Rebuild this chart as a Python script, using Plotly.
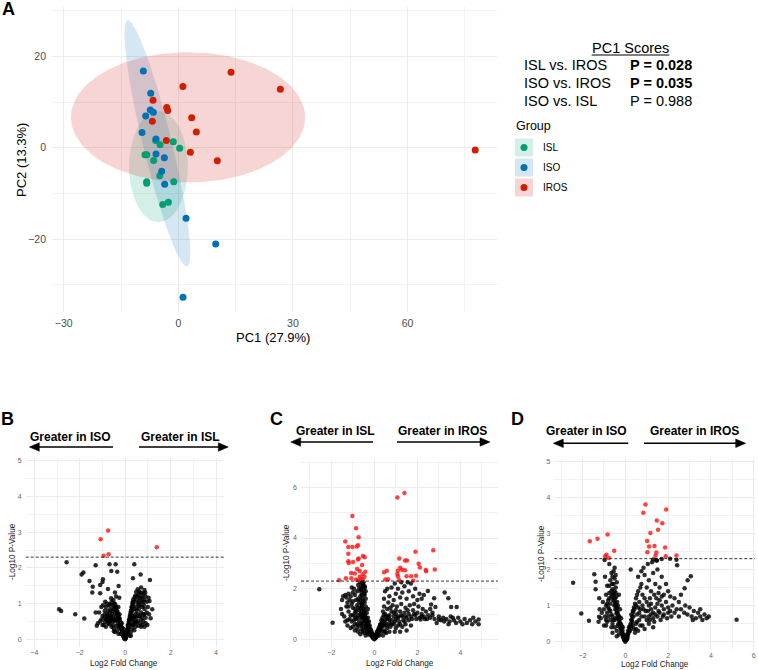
import numpy as np
import plotly.graph_objects as go

W, H = 758, 670
FONT = "Liberation Sans, Arial, sans-serif"


def PX(X):
    return X / W


def PY(Y):
    return 1 - Y / H

# ---------------- Panel A data (PCA scores) ----------------
groups = ["ISL", "ISO", "IROS"]
isl_pc1 = [-5.93, -4.79, -1.31, 0.35, -8.72, -8.28, -6.45, -4.87, -8.28, -8.28, -1.2, -4.09, -2.61]
isl_pc2 = [1.56, 0.66, 1.31, -0.14, -1.53, -1.53, -2.77, -6.12, -7.43, -7.8, -7.43, -12.4, -11.95]
iso_pc1 = [-9.16, -7.23, -7.33, -6.54, -8.54, -9.5, -5.84, -5.84, -3.66, -4.35, -3.57, 2.02, 9.78, 1.23]
iso_pc2 = [16.78, 11.9, 8.25, 7.74, 6.94, 3.36, 1.9, -1.38, -2.19, -5.17, -8.0, -15.45, -21.07, -32.7]
iros_pc1 = [13.8, 1.2, -6.62, -3.04, -2.78, -6.8, 3.5, 4.71, -3.14, 3.15, 10.2, 26.7, 77.7]
iros_pc2 = [16.5, 13.4, 10.37, 8.83, 8.17, 5.77, 6.57, 3.44, 1.6, -1.0, -2.84, 12.8, -0.5]

# confidence ellipses (centre and conjugate semi-axes)
ell_cx = [-5.2, -5.5, 2.55]
ell_cy = [-4.15, 0.95, 6.65]
ell_ux = [0.0, 7.7, 0.0]
ell_uy = [12.15, -26.95, 14.25]
ell_vx = [7.7, 3.9, 30.65]
ell_vy = [0.0, 0.0, 0.0]

pc1_tests = ["ISL vs. IROS", "ISO vs. IROS", "ISO vs. ISL"]
pc1_pvals = ["P = 0.028", "P = 0.035", "P = 0.988"]
pc1_sig = [True, True, False]

# ---------------- Volcano data ----------------
b_red = [(-0.75, 3.05), (-1.08, 2.80), (1.39, 2.58), (-0.73, 2.38), (-0.95, 2.34)]
b_black = [
    (-2.58, 2.16), (-1.30, 2.07), (-0.69, 2.10), (-0.42, 2.10), (0.40, 2.10), (-0.61, 1.91), (-0.35, 1.89),
    (-1.84, 1.87), (-1.92, 1.81), (0.68, 1.81), (0.34, 1.71), (1.09, 1.66), (-1.57, 1.63), (-0.98, 1.68),
    (-1.0, 1.60), (-1.10, 1.52), (-1.43, 1.47), (-0.29, 1.49), (-0.76, 1.41), (-1.45, 1.31), (-1.10, 1.29),
    (-0.45, 1.31), (-0.26, 1.16), (-2.91, 0.84), (-2.82, 0.79), (-2.20, 0.70), (-1.80, 0.58), (-1.30, 0.75),
    (-1.25, 0.38), (1.03, 1.16), (1.07, 1.07), (1.19, 0.84), (1.12, 0.59), (0.98, 0.40),
    (-0.05, 0.05), (-0.1, 0.1), (-0.08, 0.15), (-0.15, 0.2), (-0.12, 0.25), (-0.2, 0.3), (-0.18, 0.35),
    (-0.25, 0.4), (-0.3, 0.45), (-0.22, 0.5), (-0.35, 0.55), (-0.28, 0.6), (-0.4, 0.65), (-0.33, 0.7),
    (-0.45, 0.75), (-0.38, 0.8), (-0.5, 0.85), (-0.42, 0.9), (-0.55, 0.95), (-0.48, 1.0), (-0.6, 1.05),
    (-0.52, 1.1), (-0.65, 0.5), (-0.7, 0.6), (-0.75, 0.45), (-0.8, 0.7), (-0.85, 0.55), (-0.9, 0.8),
    (-0.95, 0.4), (-1.0, 0.65), (-1.05, 0.9), (-0.6, 0.35), (-0.5, 0.3), (-0.45, 0.2), (-0.35, 0.25),
    (-0.55, 0.4), (-0.65, 0.85), (-0.72, 0.95), (-0.8, 1.0), (-0.88, 1.05), (-0.62, 1.15), (-0.58, 0.7),
    (-0.68, 0.75), (-0.78, 0.5), (-0.92, 0.6), (-1.1, 0.5), (-1.15, 0.75), (-1.2, 0.45), (-0.98, 0.95),
    (-0.3, 0.9), (-0.25, 0.7), (-0.4, 1.2), (-0.15, 0.45), (-0.1, 0.3), (-0.05, 0.2), (-0.03, 0.1),
    (-0.2, 0.15), (-0.3, 0.35), (-0.45, 0.5), (-0.85, 0.35),
    (0.03, 0.05), (0.06, 0.12), (0.1, 0.18), (0.08, 0.25), (0.14, 0.3), (0.12, 0.38), (0.18, 0.42),
    (0.16, 0.5), (0.22, 0.55), (0.2, 0.62), (0.26, 0.68), (0.24, 0.75), (0.3, 0.8), (0.28, 0.88),
    (0.34, 0.92), (0.32, 1.0), (0.38, 1.05), (0.36, 1.12), (0.42, 1.18), (0.45, 1.22), (0.5, 1.1),
    (0.55, 1.2), (0.6, 1.25), (0.65, 1.15), (0.7, 1.3), (0.75, 1.2), (0.8, 1.28), (0.85, 1.1), (0.9, 1.2),
    (0.95, 1.05), (0.5, 0.9), (0.55, 1.0), (0.6, 0.85), (0.65, 0.95), (0.7, 0.75), (0.75, 0.9), (0.8, 0.7),
    (0.85, 0.85), (0.9, 0.6), (0.95, 0.75), (0.45, 0.7), (0.5, 0.6), (0.55, 0.5), (0.6, 0.65), (0.65, 0.45),
    (0.7, 0.55), (0.75, 0.4), (0.8, 0.5), (0.85, 0.35), (0.4, 0.5), (0.35, 0.4), (0.3, 0.3), (0.25, 0.2),
    (0.2, 0.1), (0.45, 0.35), (0.9, 0.45), (1.0, 0.9), (1.05, 0.7), (0.42, 0.85), (0.38, 0.6),
    (0.55, 1.4), (0.7, 1.45), (0.85, 1.38), (0.62, 1.33),
    (-0.04, 0.02), (0.0, 0.0), (0.02, 0.03), (-0.07, 0.08), (0.05, 0.09), (-0.12, 0.18), (0.09, 0.15),
    (-0.16, 0.28), (0.12, 0.22), (-0.22, 0.38), (0.15, 0.35), (-0.27, 0.52), (0.19, 0.46), (-0.32, 0.62),
    (0.23, 0.58), (-0.37, 0.72), (0.27, 0.72), (-0.43, 0.82), (0.31, 0.84), (-0.47, 0.92), (0.35, 0.97),
    (-0.55, 0.62), (0.42, 0.62), (-0.62, 0.55), (0.48, 0.48), (-0.7, 0.42), (0.58, 0.38), (-0.4, 0.38),
    (0.3, 0.4), (-0.5, 0.22), (0.4, 0.25), (-0.9, 0.48), (0.7, 0.35), (-1.05, 0.55), (0.62, 0.95),
    (0.72, 1.05), (0.82, 0.95), (0.88, 1.3), (0.48, 1.32), (-0.68, 0.98), (-0.58, 0.8), (-0.75, 0.65),
    (-0.3, 0.15), (0.25, 0.1),
    (-0.06, 0.12), (0.04, 0.15), (-0.1, 0.22), (0.07, 0.2), (-0.14, 0.33), (0.1, 0.3), (-0.19, 0.45),
    (0.13, 0.42), (-0.24, 0.58), (0.17, 0.55), (-0.29, 0.68), (0.21, 0.68), (-0.34, 0.78), (0.25, 0.8),
    (-0.39, 0.88), (0.29, 0.92), (-0.44, 0.98), (0.33, 1.05), (-0.5, 0.55), (0.35, 0.5), (-0.6, 0.6),
    (0.45, 0.45), (-0.7, 0.5), (0.55, 0.7), (-0.8, 0.6), (0.65, 0.65), (-0.9, 0.7), (0.75, 0.6),
    (-1.0, 0.4), (0.85, 0.7), (-0.4, 0.55), (0.3, 0.65), (-0.55, 0.5), (0.5, 0.8), (-0.65, 0.65),
    (0.6, 1.05), (-0.75, 0.8), (0.72, 1.15), (-0.85, 0.9), (0.8, 1.05),
]

c_red = [
    (1.40, 5.78), (1.07, 5.60), (-1.02, 4.87), (-0.85, 4.39), (-0.73, 4.03), (-1.35, 3.86), (-1.21, 3.65),
    (-1.02, 3.65), (-0.82, 3.67), (-0.76, 3.71), (-1.21, 3.38), (1.91, 3.46), (2.74, 3.52), (1.16, 3.19),
    (1.43, 3.11), (1.52, 3.11), (-0.73, 3.19), (-0.53, 3.29), (-0.45, 3.24), (-1.21, 3.08), (-1.19, 3.01),
    (-0.99, 3.05), (-0.76, 3.15), (-0.57, 2.94), (2.06, 2.98), (2.12, 2.84), (1.20, 2.83), (1.29, 2.75),
    (1.43, 2.73), (1.09, 2.71), (2.39, 2.74), (2.41, 2.69), (2.81, 2.76), (0.58, 2.71), (0.45, 2.65),
    (-0.80, 2.78), (-0.68, 2.70), (-0.42, 2.67), (-0.54, 2.57), (-1.08, 2.62), (-0.91, 2.60), (1.07, 2.58),
    (1.94, 2.51), (1.71, 2.49), (1.50, 2.49), (1.10, 2.48), (-0.68, 2.47), (-0.46, 2.47), (-0.62, 2.38),
    (-1.64, 2.33), (-1.32, 2.41), (-1.07, 2.41), (-0.85, 2.36), (-0.76, 2.33), (-0.54, 2.36), (0.51, 2.36),
    (0.64, 2.37), (1.16, 2.33), (1.81, 2.31),
]
c_black = [
    (-2.56, 1.98), (-1.94, 0.66), (3.27, 1.85), (3.44, 1.62), (3.83, 1.28), (3.57, 1.28), (2.49, 1.91),
    (2.78, 1.62), (2.64, 1.38), (2.84, 1.28),
    (2.6, 0.85), (2.8, 0.8), (3.0, 0.9), (3.1, 0.75), (3.2, 0.85), (3.35, 0.8), (3.5, 0.7), (3.55, 0.9),
    (3.7, 0.75), (3.8, 0.65), (3.9, 0.85), (4.0, 0.7), (4.1, 0.6), (4.2, 0.8), (4.3, 0.65), (4.45, 0.75),
    (4.55, 0.6), (4.7, 0.7), (4.85, 0.6), (4.85, 0.78), (4.6, 0.85), (2.9, 0.65), (3.25, 0.7), (3.45, 0.6),
    (3.65, 0.85), (2.7, 0.95), (3.0, 0.78),
    (-1.45, 1.7), (-1.35, 1.75), (-1.3, 1.65), (-1.2, 1.8), (-1.1, 1.7), (-1.0, 1.85), (-0.9, 1.75),
    (-0.8, 1.9), (-0.7, 2.0), (-0.6, 2.1), (-0.55, 2.2), (-0.5, 2.25), (-0.45, 2.1), (-0.5, 1.95),
    (-0.6, 1.85), (-0.65, 1.7), (-0.75, 1.6), (-0.85, 1.55), (-1.0, 1.5), (-1.15, 1.55), (-1.25, 1.45),
    (-0.4, 1.9), (-0.45, 1.75), (-0.55, 1.6), (-0.4, 1.6), (-0.95, 2.0), (-1.05, 2.05), (-0.75, 2.15),
    (-0.65, 2.25), (-1.5, 1.55),
    (-1.55, 1.2), (-1.5, 1.0), (-1.4, 0.9), (-1.3, 1.3), (-1.2, 1.1), (-1.1, 0.95), (-1.0, 1.25),
    (-0.9, 1.05), (-0.8, 1.35), (-0.7, 1.15), (-0.6, 1.4), (-0.5, 1.2), (-0.4, 1.3), (-0.35, 1.05),
    (-0.45, 0.9), (-0.55, 1.0), (-0.65, 0.85), (-0.75, 0.95), (-0.85, 0.8), (-0.95, 0.75), (-1.05, 0.7),
    (-1.15, 0.8), (-1.25, 0.75), (-1.35, 0.7), (-0.3, 0.85), (-0.25, 0.7), (-0.35, 0.6), (-0.5, 0.75),
    (-0.6, 0.65), (-0.3, 1.2), (-0.45, 1.45), (-0.7, 1.45),
    (-0.52, 1.5), (-0.58, 1.3), (-0.48, 1.05), (-0.56, 0.85), (-0.5, 0.65), (-0.6, 2.0), (-0.52, 2.15),
    (-0.47, 1.8),
    (-0.05, 0.05), (-0.1, 0.1), (-0.08, 0.2), (-0.15, 0.15), (-0.2, 0.3), (-0.18, 0.4), (-0.25, 0.45),
    (-0.3, 0.5), (-0.22, 0.55), (-0.4, 0.45), (-0.5, 0.5), (-0.6, 0.4), (-0.7, 0.55), (-0.8, 0.45),
    (-0.9, 0.6), (-1.0, 0.5), (-1.1, 0.45), (-0.35, 0.3), (-0.45, 0.25), (-0.55, 0.3), (-0.28, 0.2),
    (-0.12, 0.25), (-0.06, 0.12), (-0.75, 0.3), (-1.25, 0.55), (-0.15, 0.35),
    (0.05, 0.05), (0.1, 0.1), (0.08, 0.18), (0.15, 0.2), (0.2, 0.3), (0.18, 0.38), (0.25, 0.4), (0.3, 0.5),
    (0.28, 0.6), (0.35, 0.65), (0.4, 0.7), (0.45, 0.55), (0.5, 0.75), (0.55, 0.6), (0.6, 0.8), (0.7, 0.65),
    (0.8, 0.75), (0.12, 0.28), (0.22, 0.15), (0.35, 0.3), (0.45, 0.35), (0.6, 0.45), (0.75, 0.5), (0.9, 0.6),
    (1.0, 0.45), (1.1, 0.55), (1.3, 0.5), (1.5, 0.35), (1.7, 0.55), (0.55, 0.25),
    (0.5, 1.0), (0.6, 1.2), (0.7, 0.95), (0.8, 1.1), (0.9, 0.9), (1.0, 1.0), (1.1, 0.85), (1.2, 1.1),
    (1.3, 0.9), (1.4, 1.05), (1.5, 0.85), (1.6, 1.0), (1.7, 0.9), (1.8, 1.15), (1.9, 0.95), (2.0, 1.05),
    (2.1, 0.85), (2.2, 1.0), (2.3, 0.9), (2.4, 1.1), (2.5, 0.95), (1.05, 1.3), (1.25, 1.4), (1.45, 1.25),
    (1.65, 1.35), (1.85, 1.4), (2.05, 1.3), (2.25, 1.2), (0.85, 1.35), (0.65, 1.45), (1.55, 1.15),
    (1.75, 0.8), (1.95, 0.8), (2.15, 0.78), (2.35, 0.8), (1.15, 0.7), (1.35, 0.75), (2.6, 1.2), (2.7, 1.05),
    (0.4, 1.1), (0.45, 1.3),
    (0.45, 1.6), (0.5, 1.9), (0.7, 1.7), (0.9, 1.55), (1.0, 1.8), (1.1, 2.0), (1.2, 1.65), (1.3, 1.85),
    (1.4, 2.1), (1.5, 1.6), (1.6, 1.9), (1.7, 2.2), (1.8, 1.7), (1.9, 2.0), (2.0, 1.55), (2.1, 1.8),
    (2.2, 1.6), (0.8, 2.05), (1.55, 2.25), (2.3, 1.75), (0.95, 2.2), (1.25, 2.25), (0.6, 2.0),
    (0.0, 0.0), (-0.03, 0.03), (0.03, 0.04), (-0.07, 0.07), (0.07, 0.08), (-0.11, 0.14), (0.12, 0.14),
    (-0.16, 0.22), (0.16, 0.25), (-0.2, 0.18), (0.2, 0.2), (-0.25, 0.3), (0.24, 0.33), (-0.32, 0.4),
    (0.3, 0.42), (-0.38, 0.55), (0.38, 0.52), (-0.42, 0.7), (0.45, 0.65), (-0.48, 0.8), (-0.55, 0.92),
    (-0.6, 1.1), (-0.62, 1.25), (-0.66, 1.55), (-0.58, 1.75), (-0.62, 1.95), (-0.44, 2.05), (-0.9, 1.2),
    (-1.05, 1.4), (-1.2, 1.3), (-0.8, 0.6), (-0.9, 0.35), (-0.65, 0.2), (-0.4, 0.15), (0.4, 0.15),
    (0.7, 0.3), (0.95, 0.3), (1.2, 0.3), (1.45, 0.6), (1.6, 0.75), (1.25, 0.95), (1.45, 0.9), (1.85, 1.0),
    (2.2, 0.9), (2.45, 0.8), (1.0, 1.15), (0.75, 1.25), (0.95, 0.7),
    (-0.05, 0.1), (0.05, 0.12), (-0.09, 0.18), (0.09, 0.18), (-0.13, 0.28), (0.13, 0.3), (-0.18, 0.35),
    (0.18, 0.35), (-0.23, 0.48), (0.22, 0.48), (-0.28, 0.6), (0.27, 0.58), (-0.33, 0.72), (0.33, 0.75),
    (-0.38, 0.85), (0.38, 0.85), (-0.43, 0.98), (0.44, 0.95), (-0.5, 0.35), (0.5, 0.3), (-0.6, 0.55),
    (0.6, 0.55), (-0.7, 0.7), (0.7, 0.8), (-0.8, 0.85), (0.8, 0.6), (-0.9, 0.9), (0.9, 1.05), (-1.0, 0.95),
    (1.0, 0.8), (-0.45, 1.15), (0.55, 0.9), (-0.55, 1.4), (0.65, 0.9), (-0.65, 1.0), (1.1, 0.9),
    (-0.75, 1.25), (1.2, 0.6), (-0.85, 1.1), (1.4, 0.7),
]

d_red = [
    (0.94, 3.80), (1.91, 3.66), (0.84, 3.57), (1.47, 3.36), (1.73, 3.28), (1.53, 3.10), (-0.83, 2.97),
    (1.17, 3.01), (-1.30, 2.85), (-1.66, 2.78), (1.02, 2.79), (1.11, 2.64), (1.36, 2.65), (1.86, 2.61),
    (-0.52, 2.52), (1.45, 2.47), (1.03, 2.48), (-0.88, 2.41), (-0.94, 2.37), (-0.77, 2.32), (1.41, 2.38),
    (1.89, 2.37), (2.39, 2.39),
]
d_black = [
    (-2.44, 1.63), (-2.06, 0.78), (-1.70, 0.58), (-1.23, 0.69), (5.20, 0.61), (-1.45, 1.87), (-1.39, 1.66),
    (-1.39, 1.45), (-1.22, 1.20), (3.06, 1.81), (2.91, 1.70), (2.77, 1.48), (2.09, 2.30), (2.39, 2.27),
    (2.42, 2.12), (0.25, 2.0), (-0.75, 2.15), (-0.97, 2.26), (1.30, 2.28), (1.48, 2.25), (1.7, 2.29),
    (2.6, 0.9), (2.75, 0.8), (2.9, 0.75), (3.0, 0.95), (3.1, 0.7), (3.2, 0.85), (3.3, 0.65), (3.4, 0.8),
    (3.5, 0.7), (3.6, 0.6), (3.7, 0.75), (3.8, 0.65), (3.9, 0.7), (3.5, 0.9), (2.8, 1.0), (3.15, 0.6),
    (2.5, 0.7),
    (-0.05, 0.05), (-0.1, 0.12), (-0.08, 0.2), (-0.15, 0.25), (-0.2, 0.35), (-0.18, 0.45), (-0.25, 0.5),
    (-0.3, 0.6), (-0.28, 0.7), (-0.35, 0.75), (-0.4, 0.85), (-0.38, 0.95), (-0.45, 1.0), (-0.5, 1.1),
    (-0.48, 1.2), (-0.55, 1.3), (-0.5, 1.4), (-0.45, 1.5), (-0.55, 1.6), (-0.5, 1.75), (-0.45, 1.85),
    (-0.55, 1.95), (-0.5, 2.05), (-0.6, 1.45), (-0.65, 1.25), (-0.7, 1.05), (-0.75, 0.9), (-0.8, 1.15),
    (-0.85, 0.8), (-0.9, 1.0), (-0.95, 0.7), (-1.0, 0.9), (-1.05, 1.1), (-1.1, 0.8), (-1.15, 0.65),
    (-0.7, 0.6), (-0.6, 0.5), (-0.5, 0.4), (-0.4, 0.3), (-0.3, 0.2), (-0.65, 0.75), (-0.75, 1.35),
    (-0.85, 1.55), (-0.9, 1.3), (-0.95, 1.8), (-0.7, 1.7), (-0.65, 1.9), (-0.3, 1.3), (-0.35, 1.0),
    (-0.25, 0.9), (-0.2, 0.65), (-0.12, 0.4), (-0.35, 0.45), (-0.55, 0.6), (-0.45, 0.65), (-1.2, 0.9),
    (-1.25, 0.55), (-0.85, 0.55), (-1.0, 0.45), (-0.65, 0.4),
    (0.05, 0.05), (0.1, 0.1), (0.12, 0.2), (0.18, 0.3), (0.2, 0.4), (0.25, 0.5), (0.3, 0.6), (0.28, 0.75),
    (0.35, 0.85), (0.4, 0.95), (0.45, 1.05), (0.5, 1.2), (0.55, 1.3), (0.6, 1.4), (0.7, 1.5), (0.75, 1.6),
    (0.8, 1.3), (0.9, 1.2), (1.0, 1.1), (1.1, 1.0), (1.2, 0.9), (1.3, 0.8), (1.4, 0.95), (1.5, 1.05),
    (1.6, 1.15), (1.7, 1.0), (1.8, 0.9), (1.9, 1.1), (2.0, 0.95), (2.1, 0.85), (2.2, 1.0), (2.3, 0.8),
    (2.4, 0.9), (0.9, 0.7), (1.0, 0.6), (1.1, 0.5), (1.2, 0.75), (1.35, 0.55), (1.5, 0.7), (1.65, 0.6),
    (1.8, 0.75), (1.95, 0.65), (2.15, 0.7), (0.65, 0.6), (0.5, 0.5), (0.4, 0.35), (0.6, 0.3), (0.8, 0.45),
    (1.0, 1.5), (1.1, 1.7), (1.2, 1.4), (1.3, 1.9), (1.4, 1.6), (1.5, 2.0), (1.6, 1.5), (1.7, 1.8),
    (1.8, 1.3), (1.9, 1.6), (2.0, 1.4), (2.1, 1.25), (0.9, 1.85), (0.85, 2.05), (1.05, 2.15), (1.25, 2.2),
    (1.45, 2.25), (0.6, 1.8), (0.75, 1.95), (1.15, 1.2), (1.35, 1.3), (1.55, 1.35), (2.5, 1.1), (2.3, 1.2),
    (0.7, 0.9), (0.55, 0.75), (0.35, 0.45), (0.45, 0.25), (1.3, 0.4), (2.6, 1.3),
    (0.0, 0.0), (-0.03, 0.03), (0.03, 0.04), (-0.07, 0.08), (0.07, 0.07), (-0.11, 0.15), (0.1, 0.15),
    (-0.15, 0.22), (0.15, 0.25), (-0.2, 0.28), (0.22, 0.3), (-0.26, 0.4), (0.27, 0.4), (-0.32, 0.5),
    (0.33, 0.55), (-0.36, 0.65), (0.38, 0.7), (-0.42, 0.78), (-0.47, 0.9), (-0.52, 1.0), (-0.57, 1.15),
    (-0.42, 1.25), (-0.6, 1.3), (-0.38, 1.1), (-0.62, 1.6), (-0.4, 1.65), (-0.6, 1.8), (-0.75, 1.55),
    (-0.8, 0.7), (-0.9, 0.45), (-0.6, 0.25), (-0.4, 0.15), (0.5, 0.35), (0.7, 0.45), (0.9, 0.35),
    (1.1, 0.7), (1.3, 0.65), (1.55, 0.85), (1.75, 0.7), (2.0, 0.8), (1.2, 1.05), (1.45, 1.2), (1.7, 1.25),
    (0.8, 1.0), (0.65, 1.1),
    (-0.05, 0.1), (0.05, 0.12), (-0.09, 0.18), (0.09, 0.2), (-0.13, 0.3), (0.13, 0.3), (-0.17, 0.38),
    (0.17, 0.4), (-0.22, 0.5), (0.23, 0.45), (-0.27, 0.55), (0.28, 0.6), (-0.31, 0.68), (0.32, 0.7),
    (-0.36, 0.8), (0.37, 0.82), (-0.41, 0.92), (0.42, 0.9), (-0.46, 1.05), (0.5, 1.0), (-0.5, 0.6),
    (0.55, 0.55), (-0.6, 0.7), (0.65, 0.8), (-0.7, 0.85), (0.75, 0.7), (-0.8, 0.95), (0.85, 0.9),
    (-0.9, 0.6), (0.95, 0.85), (-0.55, 1.2), (0.6, 0.95), (-0.65, 1.4), (1.05, 0.85), (-0.45, 1.35),
    (1.15, 0.6), (-0.75, 1.2), (1.4, 0.75), (-0.85, 1.05), (1.6, 0.8),
]

p_threshold = 2.3
volcano_labels = [("Greater in ISO", "Greater in ISL"),
                  ("Greater in ISL", "Greater in IROS"),
                  ("Greater in ISO", "Greater in IROS")]

# ---------------- colours ----------------
COL = {"ISL": "#009E73", "ISO": "#0072B2", "IROS": "#D21E00"}
FILL = {"ISL": "rgba(0,158,115,0.17)", "ISO": "rgba(0,114,178,0.17)", "IROS": "rgba(222,45,45,0.2)"}

fig = go.Figure()

# ellipses
t = np.linspace(0, 2 * np.pi, 240)
for i, g in enumerate(groups):
    ex = ell_cx[i] + np.cos(t) * ell_ux[i] + np.sin(t) * ell_vx[i]
    ey = ell_cy[i] + np.cos(t) * ell_uy[i] + np.sin(t) * ell_vy[i]
    fig.add_trace(go.Scatter(x=ex, y=ey, mode="lines", fill="toself", fillcolor=FILL[g],
                             line=dict(width=0, color=FILL[g]), hoverinfo="skip",
                             xaxis="x", yaxis="y"))

pts = {"ISL": (isl_pc1, isl_pc2), "ISO": (iso_pc1, iso_pc2), "IROS": (iros_pc1, iros_pc2)}
for g in groups:
    fig.add_trace(go.Scatter(x=pts[g][0], y=pts[g][1], mode="markers", name=g,
                             marker=dict(size=7, color=COL[g], line=dict(width=0)),
                             xaxis="x", yaxis="y"))

# volcano traces
for k, (blk, red) in enumerate([(b_black, b_red), (c_black, c_red), (d_black, d_red)]):
    ax = str(k + 2)
    fig.add_trace(go.Scatter(x=[p[0] for p in blk], y=[p[1] for p in blk], mode="markers",
                             marker=dict(size=4.5, color="rgba(0,0,0,0.82)", line=dict(width=0)),
                             xaxis="x" + ax, yaxis="y" + ax))
    fig.add_trace(go.Scatter(x=[p[0] for p in red], y=[p[1] for p in red], mode="markers",
                             marker=dict(size=4.5, color="rgba(255,20,20,0.8)", line=dict(width=0)),
                             xaxis="x" + ax, yaxis="y" + ax))

GRID = "#EBEBEB"


def mk_axis(dom, rng, dtick, mdtick, fs, anchor, standoff, color="#4D4D4D"):
    return dict(domain=dom, range=rng, dtick=dtick, tick0=0, showgrid=True, gridcolor=GRID,
                gridwidth=1.1, zeroline=False, showline=False, ticks="", anchor=anchor,
                tickfont=dict(size=fs, color=color, family=FONT), fixedrange=True,
                ticklabelstandoff=standoff,
                minor=dict(showgrid=True, gridcolor="#F2F2F2", gridwidth=0.6, dtick=mdtick, tick0=0))


VC = "#666666"
layout = dict(
    width=W, height=H, margin=dict(l=0, r=0, t=0, b=0), autosize=False,
    plot_bgcolor="white", paper_bgcolor="white", showlegend=False,
    font=dict(family=FONT, color="black"),
    xaxis=mk_axis([PX(52), PX(497)], [-33.06, 83.4], 30, 15, 10.5, "y", 3),
    yaxis=mk_axis([PY(312), PY(7)], [-35.95, 30.8], 20, 10, 10.5, "x", 5),
    xaxis2=mk_axis([PX(25.7), PX(224)], [-4.38, 4.35], 2, 1, 7, "y2", 0, VC),
    yaxis2=mk_axis([PY(646.7), PY(458.3)], [-0.21, 5.07], 1, 0.5, 7, "x2", 3, VC),
    xaxis3=mk_axis([PX(301), PX(498)], [-3.41, 5.75], 2, 1, 7, "y3", 0, VC),
    yaxis3=mk_axis([PY(646.7), PY(460)], [-0.29, 7.08], 2, 1, 7, "x3", 3, VC),
    xaxis4=mk_axis([PX(554.3), PX(755)], [-3.32, 6.06], 2, 1, 7, "y4", 0, VC),
    yaxis4=mk_axis([PY(650), PY(458.3)], [-0.23, 5.08], 1, 0.5, 7, "x4", 3, VC),
)
fig.update_layout(**layout)

ann = []
shapes = []


def text(s, X, Y, size, bold=False, xanchor="center", angle=0, color="black"):
    ann.append(dict(text=("<b>%s</b>" % s) if bold else s, x=PX(X), y=PY(Y), xref="paper", yref="paper",
                    xanchor=xanchor, yanchor="middle", showarrow=False, textangle=angle,
                    font=dict(size=size, color=color, family=FONT)))

# panel letters
text("A", 8.5, 9, 18, bold=True)
text("B", 7.5, 418.5, 18, bold=True)
text("C", 276, 418.5, 18, bold=True)
text("D", 517.5, 418.5, 18, bold=True)

# panel A titles
text("PC1 (27.9%)", 273, 337, 13)
text("PC2 (13.3%)", 21, 160, 13, angle=-90)

# PC1 score table
text("PC1 Scores", 630.5, 47.5, 14.5)
shapes.append(dict(type="line", xref="paper", yref="paper", x0=PX(591.7), x1=PX(669.3),
                   y0=PY(55), y1=PY(55), line=dict(color="black", width=1)))
for i in range(3):
    Yr = 65 + 18 * i
    text(pc1_tests[i], 522.3, Yr, 14.5, xanchor="left")
    text(pc1_pvals[i], 628.3, Yr, 14.5, bold=pc1_sig[i], xanchor="left")

# legend (manual)
text("Group", 514.3, 125.5, 12.5, xanchor="left")
for i, g in enumerate(groups):
    yc = 147.5 + 20 * i
    shapes.append(dict(type="rect", xref="paper", yref="paper", x0=PX(515), x1=PX(533),
                       y0=PY(yc + 9), y1=PY(yc - 9), fillcolor=FILL[g], line=dict(width=0)))
    shapes.append(dict(type="circle", xref="paper", yref="paper", x0=PX(524 - 3.5), x1=PX(524 + 3.5),
                       y0=PY(yc + 3.5), y1=PY(yc - 3.5), fillcolor=COL[g], line=dict(width=0)))
    text(g, 540.7, yc, 10, xanchor="left")

# volcano titles
vt = [(124, 552, 12, 663), (399.5, 553, 286, 663), (655, 554, 541, 664)]
for (xc, yc, xt, yt) in vt:
    text("Log2 Fold Change", xc, yt, 8.2, color="#222222")
    text("-Log10 P-Value", xt, yc, 8.2, angle=-90, color="#222222")

# direction labels
dir_pos = [(70, 180, 436.7), (335.3, 442.8, 431), (586, 694.2, 431)]
for k in range(3):
    l, r = volcano_labels[k]
    x1, x2, yy = dir_pos[k]
    text(l, x1, yy, 12, bold=True)
    text(r, x2, yy, 12, bold=True)

# arrows: (Y, line_from, line_to, base, tip)
arrows = [(447, 113, 38, 39.3, 29.3), (447, 139, 219, 218.3, 228.3),
          (442, 373, 300, 300.7, 290.7), (442, 397, 481, 480, 490),
          (443.3, 628.3, 562, 563.3, 553.3), (443.3, 644, 737, 735.7, 745.7)]
for (Y, a, b, base, tip) in arrows:
    shapes.append(dict(type="line", xref="paper", yref="paper", x0=PX(a), x1=PX(b), y0=PY(Y), y1=PY(Y),
                       line=dict(color="black", width=1.5)))
    path = "M %f,%f L %f,%f L %f,%f Z" % (PX(tip), PY(Y), PX(base), PY(Y - 4.3), PX(base), PY(Y + 4.3))
    shapes.append(dict(type="path", xref="paper", yref="paper", path=path, fillcolor="black",
                       line=dict(color="black", width=0.5)))

# threshold lines
for ax in ["2", "3", "4"]:
    shapes.append(dict(type="line", xref="x%s domain" % ax, yref="y" + ax, x0=0, x1=1,
                       y0=p_threshold, y1=p_threshold, line=dict(color="black", width=0.8, dash="3px,2px"),
                       layer="above"))

fig.update_layout(annotations=ann, shapes=shapes)
fig.write_html("out.html")
